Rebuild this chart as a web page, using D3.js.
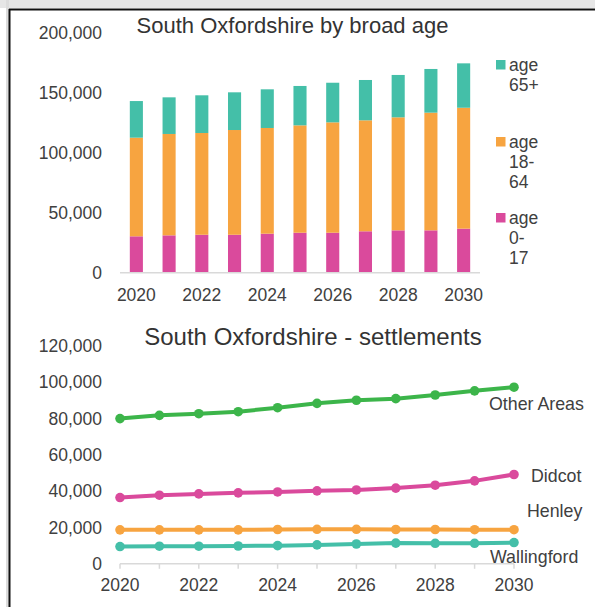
<!DOCTYPE html>
<html>
<head>
<meta charset="utf-8">
<script src="https://cdn.jsdelivr.net/npm/d3@7"></script>
<style>
  html, body { margin: 0; padding: 0; background: #fff; }
  svg { display: block; font-family: "Liberation Sans", Arial, sans-serif; }
</style>
</head>
<body>
<svg id="chart" width="595" height="607"></svg>
<script>
// ---- data: population by broad age ----
const years = [2020, 2021, 2022, 2023, 2024, 2025, 2026, 2027, 2028, 2029, 2030];
const age0to17  = [30400, 31200, 31700, 31700, 32600, 33400, 33400, 34600, 35400, 35400, 36800];
const age18to64 = [82400, 84700, 85000, 87500, 88300, 89700, 92200, 92700, 94400, 98300, 101000];
const age65plus = [30600, 30600, 31500, 31500, 32300, 32900, 33100, 33700, 35400, 36500, 37100];
const ageKeys   = ["age 0-17", "age 18-64", "age 65+"];
const ageColors = ["#da4a9c", "#f7a440", "#44bfa8"];
const ageTicks  = [0, 50000, 100000, 150000, 200000];

// ---- data: population by settlement ----
const otherAreas  = [80000, 81800, 82700, 83800, 86000, 88400, 90100, 91000, 93000, 95300, 97300];
const didcot      = [36500, 37800, 38500, 39100, 39600, 40200, 40700, 41700, 43300, 45700, 49200];
const henley      = [18700, 18700, 18700, 18700, 18900, 19000, 19000, 18900, 18900, 18800, 18800];
const wallingford = [9500, 9700, 9700, 9800, 10000, 10400, 10900, 11400, 11300, 11300, 11700];
const settlementNames  = ["Other Areas", "Didcot", "Henley", "Wallingford"];
const settlementColors = ["#3cb54a", "#da4a9c", "#f7a440", "#44bfa8"];
const settlementTicks  = [0, 20000, 40000, 60000, 80000, 100000, 120000];
const yearTicks = [2020, 2022, 2024, 2026, 2028, 2030];

const svg = d3.select("#chart");
const fmt = d3.format(",");
const textCol = "#404040";

// frame
svg.append("rect").attr("x", 0).attr("y", 0).attr("width", 595).attr("height", 8).attr("fill", "#e6e6e6");
svg.append("rect").attr("x", 6).attr("y", 0).attr("width", 3).attr("height", 607).attr("fill", "#dcdcdc");
svg.append("line").attr("x1", 9).attr("x2", 595).attr("y1", 9.5).attr("y2", 9.5).attr("stroke", "#111").attr("stroke-width", 2);
svg.append("line").attr("x1", 9.5).attr("x2", 9.5).attr("y1", 9).attr("y2", 607).attr("stroke", "#111").attr("stroke-width", 2);

// ================= stacked bars =================
const x1 = d3.scaleBand().domain(years).range([120, 480]).paddingInner(0.6).paddingOuter(0.3);
const y1 = d3.scaleLinear().domain([0, 200000]).range([272.7, 33.3]);

svg.append("text").attr("x", 292.5).attr("y", 25).attr("text-anchor", "middle")
  .attr("dominant-baseline", "central").attr("font-size", 22).attr("fill", "#333")
  .text("South Oxfordshire by broad age");

const rows = years.map((yr, i) => ({ year: yr, "age 0-17": age0to17[i], "age 18-64": age18to64[i], "age 65+": age65plus[i] }));
const stacked = d3.stack().keys(ageKeys)(rows);

svg.append("g").selectAll("g").data(stacked).join("g")
  .attr("fill", (d, i) => ageColors[i])
  .selectAll("rect").data(d => d).join("rect")
  .attr("x", d => x1(d.data.year))
  .attr("width", x1.bandwidth())
  .attr("y", d => y1(d[1]))
  .attr("height", d => y1(d[0]) - y1(d[1]));

svg.append("line").attr("x1", 120).attr("x2", 480).attr("y1", y1(0)).attr("y2", y1(0))
  .attr("stroke", "#d9d9d9").attr("stroke-width", 1.5);

svg.append("g").selectAll("text").data(ageTicks).join("text")
  .attr("x", 102).attr("y", d => y1(d)).attr("text-anchor", "end")
  .attr("dominant-baseline", "central").attr("font-size", 17.5).attr("fill", textCol)
  .text(d => fmt(d));

svg.append("g").selectAll("text").data(yearTicks).join("text")
  .attr("x", d => x1(d) + x1.bandwidth() / 2).attr("y", 295).attr("text-anchor", "middle")
  .attr("dominant-baseline", "central").attr("font-size", 17.5).attr("fill", textCol)
  .text(d => d);

// legend (top to bottom: 65+, 18-64, 0-17)
const legendItems = [
  { lines: ["age", "65+"], color: ageColors[2], top: 60 },
  { lines: ["age", "18-", "64"], color: ageColors[1], top: 137 },
  { lines: ["age", "0-", "17"], color: ageColors[0], top: 213 }
];
const lg = svg.append("g").selectAll("g").data(legendItems).join("g");
lg.append("rect").attr("x", 496).attr("y", d => d.top).attr("width", 9.5).attr("height", 9.5).attr("fill", d => d.color);
lg.each(function (d) {
  d3.select(this).selectAll("text").data(d.lines).join("text")
    .attr("x", 509).attr("y", (t, j) => d.top + 5 + j * 20)
    .attr("dominant-baseline", "central").attr("font-size", 17.5).attr("fill", textCol)
    .text(t => t);
});

// ================= settlement lines =================
const x2 = d3.scalePoint().domain(years).range([120, 514]);
const y2 = d3.scaleLinear().domain([0, 120000]).range([563.8, 346]);

svg.append("text").attr("x", 313).attr("y", 336.5).attr("text-anchor", "middle")
  .attr("dominant-baseline", "central").attr("font-size", 24).attr("fill", "#333")
  .text("South Oxfordshire - settlements");

svg.append("g").selectAll("text").data(settlementTicks).join("text")
  .attr("x", 102).attr("y", d => y2(d)).attr("text-anchor", "end")
  .attr("dominant-baseline", "central").attr("font-size", 17.5).attr("fill", textCol)
  .text(d => fmt(d));

// x axis with downward ticks
svg.append("line").attr("x1", 120).attr("x2", 514).attr("y1", y2(0)).attr("y2", y2(0))
  .attr("stroke", "#d9d9d9").attr("stroke-width", 1.5);
svg.append("g").selectAll("line").data(years).join("line")
  .attr("x1", d => x2(d)).attr("x2", d => x2(d)).attr("y1", y2(0)).attr("y2", y2(0) + 5)
  .attr("stroke", "#d9d9d9").attr("stroke-width", 1.5);
svg.append("g").selectAll("text").data(yearTicks).join("text")
  .attr("x", d => x2(d)).attr("y", 585).attr("text-anchor", "middle")
  .attr("dominant-baseline", "central").attr("font-size", 17.5).attr("fill", textCol)
  .text(d => d);

const series = [otherAreas, didcot, henley, wallingford].map((vals, i) => ({
  name: settlementNames[i], color: settlementColors[i], values: vals
}));
const line = d3.line().x((d, i) => x2(years[i])).y(d => y2(d));

const sg = svg.append("g").selectAll("g").data(series).join("g");
sg.append("path").attr("d", d => line(d.values)).attr("fill", "none")
  .attr("stroke", d => d.color).attr("stroke-width", 4).attr("stroke-linejoin", "round");
sg.each(function (d) {
  d3.select(this).selectAll("circle").data(d.values).join("circle")
    .attr("cx", (v, i) => x2(years[i])).attr("cy", v => y2(v)).attr("r", 4.8)
    .attr("fill", d.color);
});

// series labels placed next to the 2030 end points
const labelOffsets = {
  "Other Areas": { dx: -25, dy: 17 },
  "Didcot": { dx: 17, dy: 1 },
  "Henley": { dx: 13, dy: -19 },
  "Wallingford": { dx: -24, dy: 14 }
};
svg.append("g").selectAll("text").data(series).join("text")
  .attr("x", d => x2(2030) + labelOffsets[d.name].dx)
  .attr("y", d => y2(d.values[d.values.length - 1]) + labelOffsets[d.name].dy)
  .attr("dominant-baseline", "central").attr("font-size", 17.8).attr("fill", textCol)
  .text(d => d.name);
</script>
</body>
</html>
